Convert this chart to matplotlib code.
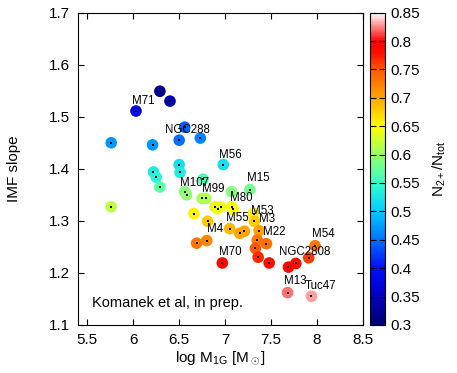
import numpy as np
import matplotlib
matplotlib.use("Agg")
import matplotlib.pyplot as plt
from matplotlib.colors import LinearSegmentedColormap

plt.rcParams['font.family'] = ['Liberation Sans', 'DejaVu Sans']
plt.rcParams['mathtext.fontset'] = 'custom'
plt.rcParams['mathtext.rm'] = 'Liberation Sans'
plt.rcParams['mathtext.it'] = 'Liberation Sans:italic'

# data
log_mass = [6.29, 6.40, 6.03, 6.56, 6.50, 6.73, 5.76, 6.21, 6.98, 6.50,
            6.51, 6.22, 6.25, 6.29, 6.76, 6.56, 6.58, 6.75, 6.79, 7.07,
            7.27, 5.76, 6.89, 6.92, 6.95, 7.07, 7.09, 6.66, 7.31, 7.32,
            6.81, 7.05, 7.16, 7.21, 7.37, 6.80, 6.69, 7.35, 7.45, 7.33,
            7.98, 7.91, 7.77, 7.69, 7.36, 7.48, 6.97, 7.68, 7.94]
imf_slope = [1.549, 1.530, 1.511, 1.480, 1.455, 1.459, 1.450, 1.446, 1.408, 1.408,
             1.393, 1.394, 1.384, 1.365, 1.380, 1.356, 1.350, 1.343, 1.343, 1.356,
             1.360, 1.327, 1.327, 1.323, 1.327, 1.327, 1.322, 1.314, 1.314, 1.299,
             1.299, 1.285, 1.276, 1.280, 1.281, 1.262, 1.257, 1.263, 1.256, 1.247,
             1.252, 1.229, 1.218, 1.211, 1.230, 1.219, 1.219, 1.162, 1.155]
frac_2p = [0.32, 0.34, 0.38, 0.44, 0.45, 0.46, 0.47, 0.47, 0.52, 0.52,
           0.53, 0.53, 0.54, 0.57, 0.56, 0.59, 0.595, 0.61, 0.61, 0.59,
           0.58, 0.62, 0.64, 0.64, 0.64, 0.645, 0.65, 0.655, 0.66, 0.68,
           0.68, 0.69, 0.70, 0.70, 0.70, 0.72, 0.73, 0.73, 0.735, 0.75,
           0.73, 0.76, 0.78, 0.79, 0.77, 0.78, 0.79, 0.82, 0.83]

# cluster names and where their text sits
names = ['M71', 'NGC288', 'M56', 'M107', 'M99', 'M80', 'M15', 'M53', 'M55',
         'M3', 'M4', 'M22', 'M54', 'M70', 'NGC2808', 'M13', 'Tuc47']
name_x = [5.986, 6.346, 6.935, 6.508, 6.748, 7.055, 7.234, 7.282, 7.012,
          7.372, 6.807, 7.408, 7.947, 6.929, 7.587, 7.641, 7.868]
name_y = [1.519, 1.4635, 1.415, 1.3606, 1.3496, 1.3317, 1.3709, 1.3072, 1.2936,
          1.2911, 1.2718, 1.2674, 1.2627, 1.2288, 1.2288, 1.1728, 1.1631]

# gnuplot-like palette: navy -> blue -> cyan -> green -> yellow -> red -> white
cvals = [0.30, 0.35, 0.40, 0.45, 0.50, 0.55, 0.60, 0.65, 0.70, 0.75, 0.78, 0.80, 0.85]
ccols = [(0.0, 0.0, 0.45), (0.0, 0.0, 0.75), (0.0, 0.05, 1.0), (0.0, 0.45, 1.0),
         (0.0, 0.8, 1.0), (0.2, 1.0, 0.8), (0.6, 1.0, 0.4), (1.0, 1.0, 0.0),
         (1.0, 0.65, 0.0), (1.0, 0.35, 0.0), (1.0, 0.05, 0.0), (1.0, 0.0, 0.0),
         (1.0, 1.0, 1.0)]
cmap = LinearSegmentedColormap.from_list(
    'pal', [((v - 0.3) / 0.55, c) for v, c in zip(cvals, ccols)])

fig = plt.figure(figsize=(4.57, 3.73), dpi=100)
ax = fig.add_axes([0.171, 0.129, 0.623, 0.837])
cax = fig.add_axes([0.810, 0.129, 0.032, 0.837])

sc = ax.scatter(log_mass, imf_slope, c=frac_2p, cmap=cmap, vmin=0.3, vmax=0.85,
                s=70, edgecolors='none', zorder=3)
ax.scatter(log_mass, imf_slope, c='k', s=1.2, marker='s', linewidths=0, zorder=4)

for n, tx, ty in zip(names, name_x, name_y):
    ax.text(tx, ty, n, fontsize=8.3, va='bottom', ha='left', zorder=5)

ax.text(0.05, 0.058, 'Komanek et al, in prep.', transform=ax.transAxes, fontsize=10.5)

ax.set_xlim(5.4, 8.5)
ax.set_ylim(1.1, 1.7)
ax.set_xticks([5.5, 6, 6.5, 7, 7.5, 8, 8.5])
ax.set_xticklabels(['5.5', '6', '6.5', '7', '7.5', '8', '8.5'])
ax.set_yticks([1.1, 1.2, 1.3, 1.4, 1.5, 1.6, 1.7])
ax.tick_params(direction='in', top=True, right=True, labelsize=11, length=4, pad=6)
ax.set_xlabel(r'log M$_{\rm 1G}$ [M$_\odot$]', fontsize=11, labelpad=2)
ax.set_ylabel('IMF slope', fontsize=11, labelpad=20)

cb = fig.colorbar(sc, cax=cax)
cb.set_ticks([0.3, 0.35, 0.4, 0.45, 0.5, 0.55, 0.6, 0.65, 0.7, 0.75, 0.8, 0.85])
cb.set_ticklabels(['0.3', '0.35', '0.4', '0.45', '0.5', '0.55', '0.6', '0.65',
                   '0.7', '0.75', '0.8', '0.85'])
cax.tick_params(direction='in', left=True, right=True, labelsize=11, length=4, pad=4)
cb.outline.set_linewidth(0.8)
cb.set_label(r'N$_{2+}$/N$_{\rm tot}$', fontsize=11, labelpad=8)

fig.savefig('out.png', dpi=100)
